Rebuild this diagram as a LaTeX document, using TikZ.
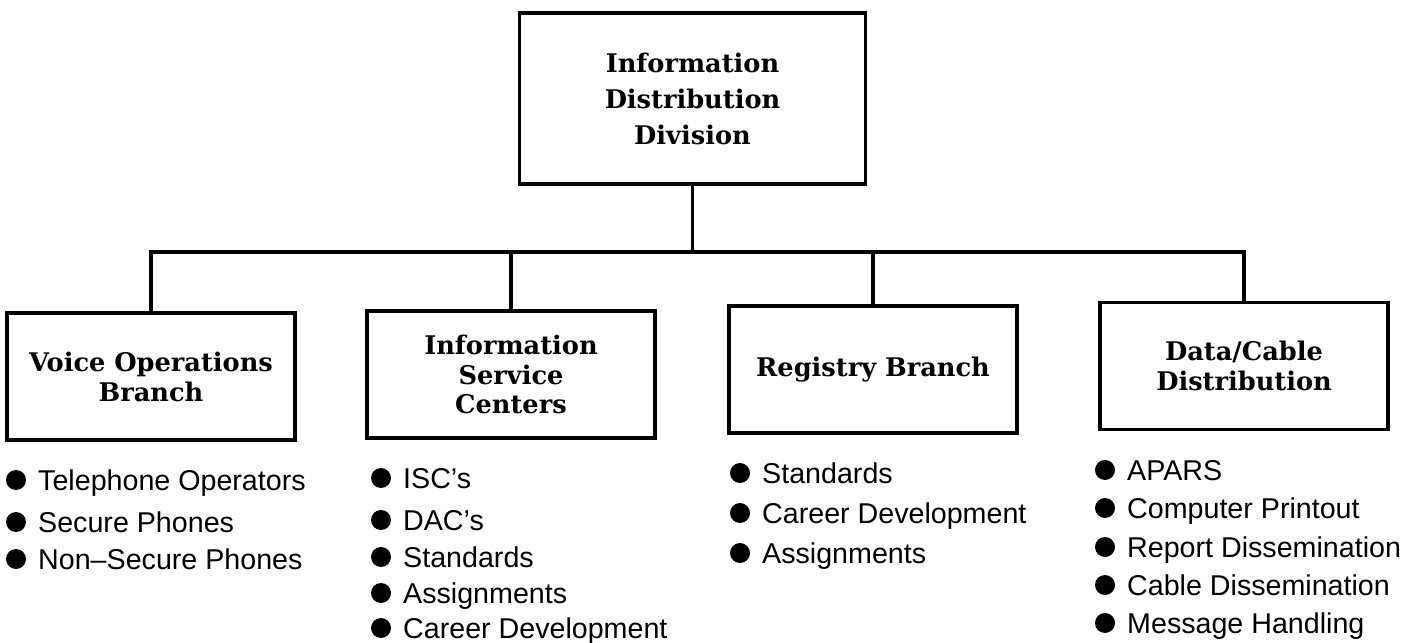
\documentclass[tikz,border=0pt]{standalone}
\usepackage{fontspec}
\newfontfamily\unitfont{DejaVu Serif}
\newfontfamily\itemfont[Ligatures=TeX]{Liberation Sans}
\usetikzlibrary{positioning}

\begin{document}
\begin{tikzpicture}[
      unit/.style={draw, line width=2pt, minimum width=5.76cm, minimum height=2.54cm, align=center,
                   font=\unitfont\bfseries\fontsize{14.6}{17}\selectfont},
      dot/.style={circle, fill, inner sep=0pt, minimum size=0.4cm},
      item/.style={anchor=west, inner sep=0pt, text height=11.6pt, text depth=0pt,
                   font=\itemfont\fontsize{16.3}{18}\selectfont},
      link/.style={line width=2pt},
    ]
      \useasboundingbox (0,0) rectangle (28.4,12.84);
      \node[unit, minimum width=6.92cm, minimum height=3.42cm,
            font=\unitfont\bfseries\fontsize{14.6}{20.5}\selectfont] (idd) at (13.85,10.87)
            {Information\\Distribution\\Division};
      \node[unit] (voice) at (3.02,5.31)  {Voice Operations\\Branch};
      \node[unit] (isc)   at (10.22,5.35) {Information\\Service\\Centers};
      \node[unit] (reg)   at (17.46,5.45) {Registry Branch};
      \node[unit] (data)  at (24.88,5.52) {Data/Cable\\Distribution};
      \coordinate (bus) at (13.85,7.8);
      \draw[link] (idd) -- (bus);
      \draw[link] (voice) |- (bus); \draw[link] (isc) |- (bus);
      \draw[link] (reg) |- (bus);   \draw[link] (data) |- (bus);
      % bullet lists under the branches
      \foreach \y/\txt [count=\i] in {3.24/Telephone Operators, 2.4/Secure Phones, 1.66/Non--Secure Phones} {
        \node[dot] (v\i) at (0.32,\y) {};
        \node[item, right=0.23cm of v\i] (vt\i) {\txt};
      }
      \foreach \y/\txt [count=\i] in {3.28/ISC's, 2.44/DAC's, 1.7/Standards, 0.98/Assignments, 0.28/Career Development} {
        \node[dot] (s\i) at (7.62,\y) {};
        \node[item, right=0.23cm of s\i] (st\i) {\txt};
      }
      \foreach \y/\txt [count=\i] in {3.38/Standards, 2.58/Career Development, 1.78/Assignments} {
        \node[dot] (r\i) at (14.8,\y) {};
        \node[item, right=0.23cm of r\i] (rt\i) {\txt};
      }
      \foreach \y/\txt [count=\i] in {3.44/APARS, 2.68/Computer Printout, 1.9/Report Dissemination, 1.14/Cable Dissemination, 0.38/Message Handling} {
        \node[dot] (d\i) at (22.1,\y) {};
        \node[item, right=0.23cm of d\i] (dt\i) {\txt};
      }
    \end{tikzpicture}
\end{document}
